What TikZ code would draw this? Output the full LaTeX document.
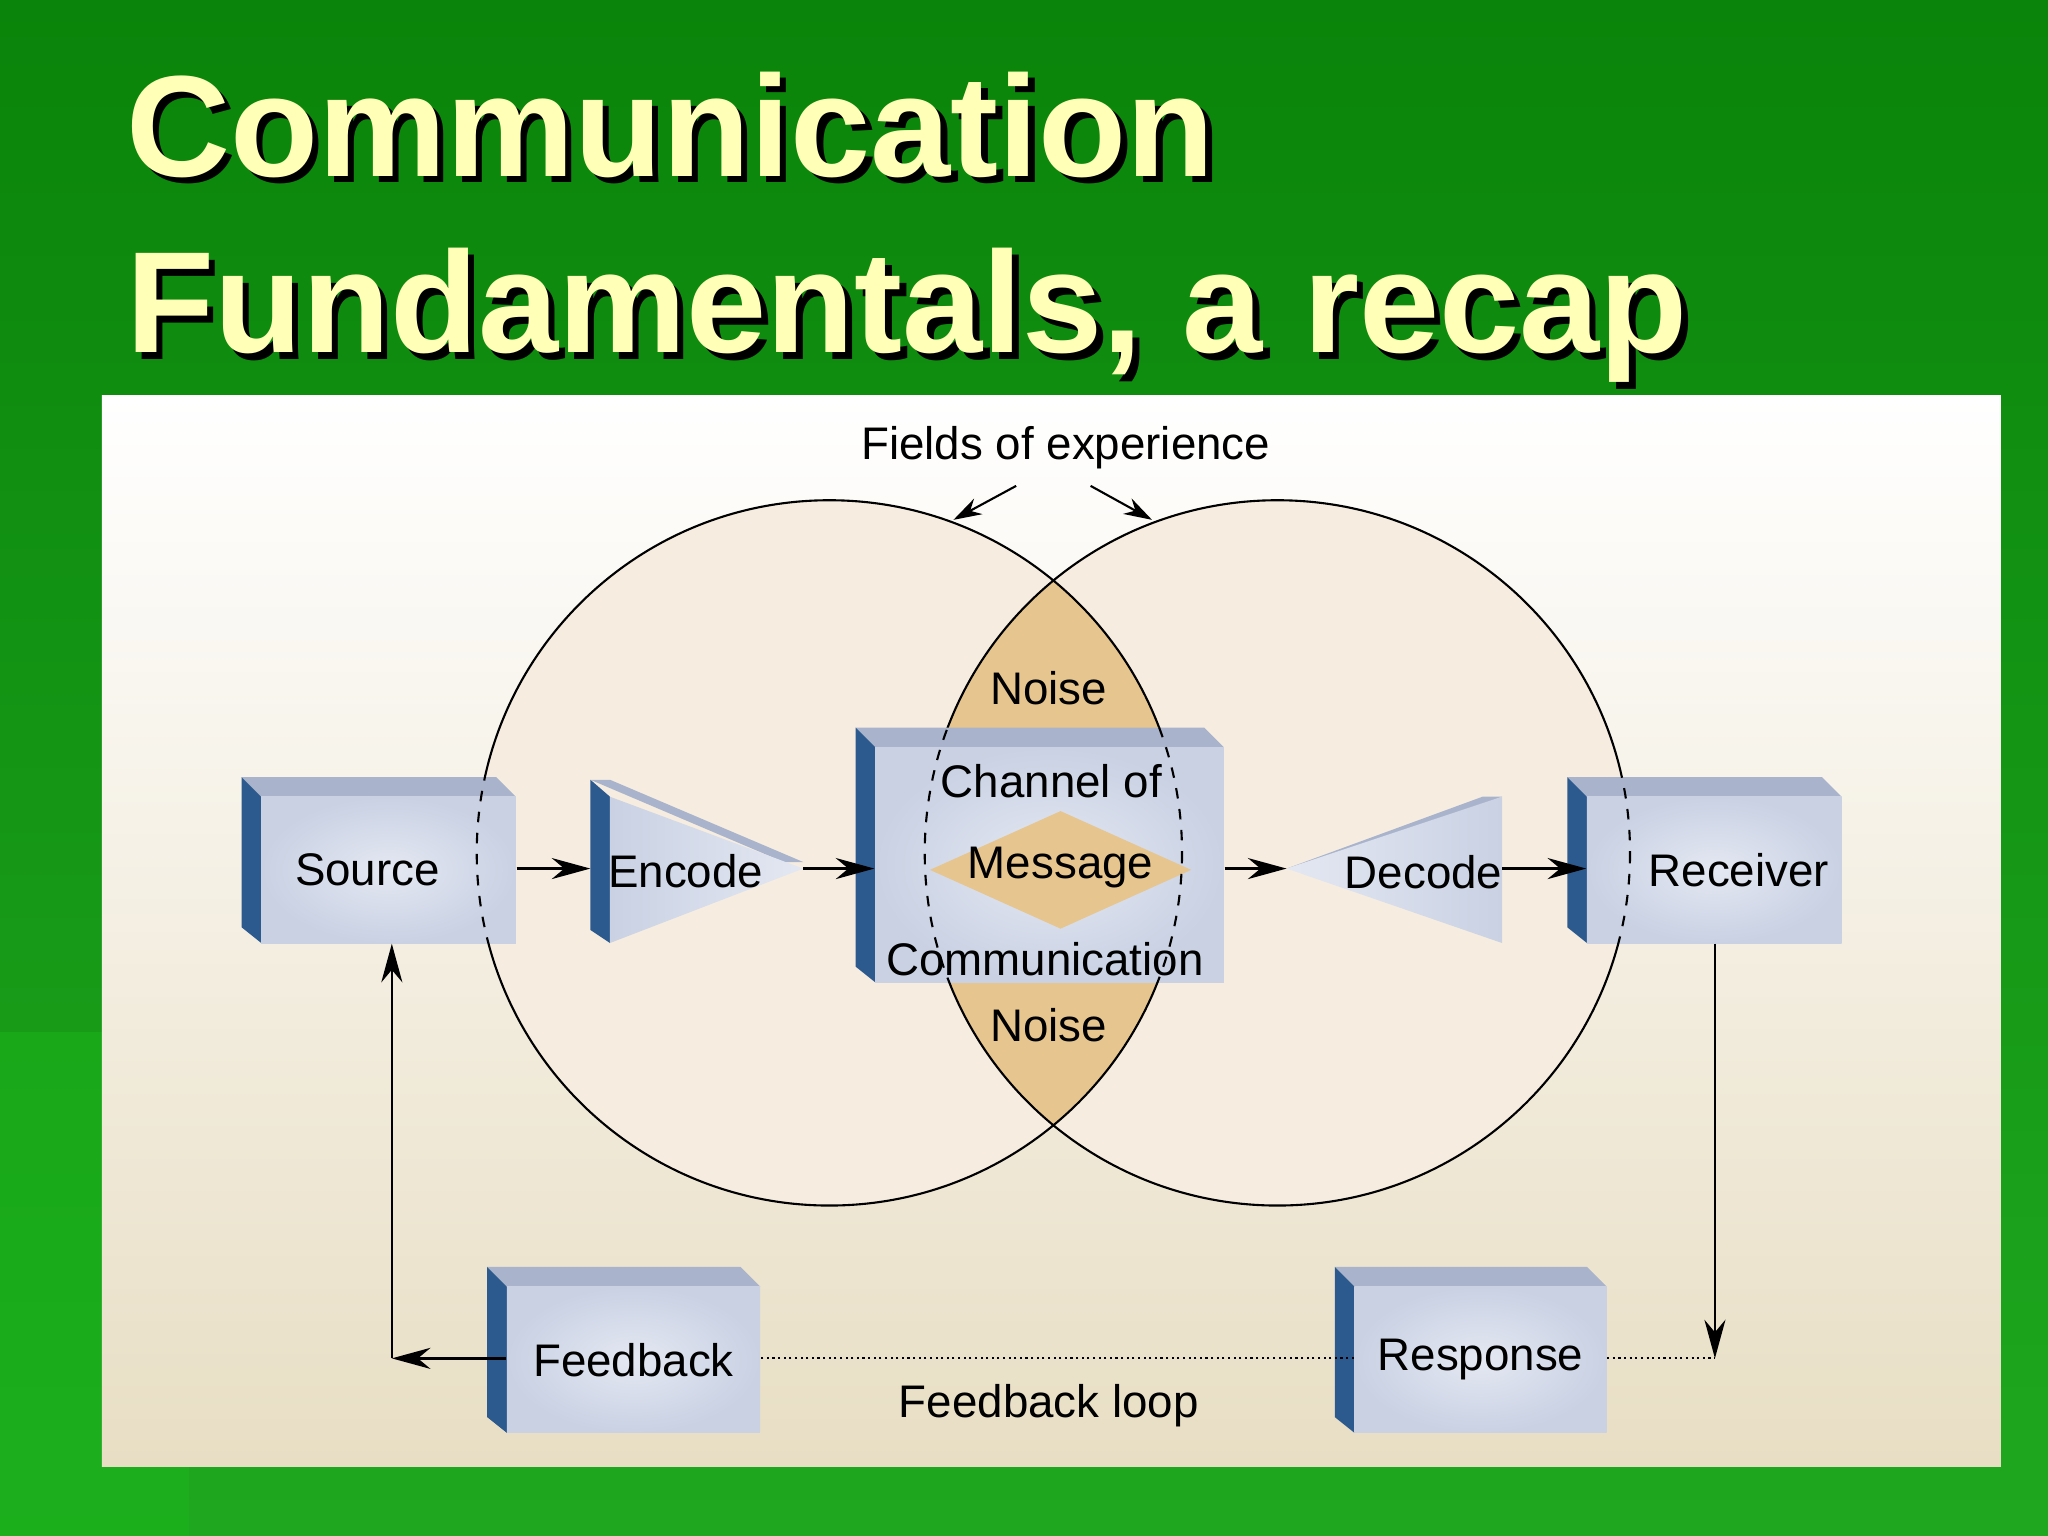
\documentclass[tikz,border=0pt]{standalone}
\usepackage{fontspec}
\setmainfont{Liberation Sans}
\usetikzlibrary{arrows.meta}
\definecolor{bgtop}{HTML}{0A840A}
\definecolor{bgbot}{HTML}{1FA81F}
\definecolor{ttl}{HTML}{FFFFB8}
\definecolor{lens}{HTML}{E6C68E}
\definecolor{face}{HTML}{C9D1E3}
\definecolor{facel}{HTML}{E4E8F2}
\definecolor{edge}{HTML}{2C5A8E}
\definecolor{bevel}{HTML}{A9B4CC}
\definecolor{circ}{HTML}{F6EDE0}
\definecolor{panb}{HTML}{E8DEC4}
\tikzset{
 arr/.style={-{Stealth[length=11pt,width=6pt]},line width=0.7pt},
 lbl/.style={font=\fontsize{13}{13}\selectfont,inner sep=0pt},
 ttlf/.style={font=\fontsize{41}{41}\selectfont\bfseries,anchor=base west,inner sep=0pt},
}
\newcommand\cbox[6]{%
 \fill[bevel] (#2,#3)--(#4-15,#3)--(#4,#3+15)--(#2+15,#3+15)--cycle;
 \fill[edge] (#2,#3)--(#2+15,#3+15)--(#2+15,#5)--(#2,#5-12)--cycle;
 \shade[inner color=facel,outer color=face] (#2+15,#3+15) rectangle (#4,#5);
 \node[lbl,minimum width={(#4-#2-15)*0.013061cm},minimum height={(#5-#3-15)*0.013061cm}] (#1) at ({(#2+15+#4)/2},{(#3+15+#5)/2}) {#6};}
\begin{document}
\begin{tikzpicture}[x=0.013061cm,y=-0.013061cm]
\useasboundingbox (0,0) rectangle (1568,1176);
\shade[top color=bgtop,bottom color=bgbot] (0,0) rectangle (1568,1176);
\fill[green!70!black!90!white,opacity=0.4] (0,790) rectangle (145,1176);
% title
\foreach \t/\yy in {Communication/135, {Fundamentals, a recap}/270}{
 \node[ttlf,black] at (101,\yy+5) {\t};
 \node[ttlf,ttl] at (96,\yy) {\t};}
% panel
\shade[top color=white,bottom color=panb] (78,303) rectangle (1532,1123);
% circles
\fill[circ] (635,653) circle (270);
\fill[circ] (978,653) circle (270);
\begin{scope}
 \clip (635,653) circle (270);
 \fill[lens] (978,653) circle (270);
\end{scope}
\draw[line width=0.6pt] (635,653) circle (270) (978,653) circle (270);
% channel box
\cbox{chan}{655}{557}{937}{752}{}
\fill[lens] (712,666)--(812,621)--(912,666)--(812,711)--cycle;
\node[lbl] (msg) at (812,664) {Message};
\node[lbl] at (805,598) {Channel of};
\node[lbl] at (800,734) {Communication};
\node[lbl] (n1) at (803,527) {Noise};
\node[lbl] (n2) at (803,785) {Noise};
% boxes
\cbox{source}{185}{595}{395}{722}{\hspace*{-12pt}Source}
\cbox{receiver}{1200}{595}{1410}{722}{\hspace*{14pt}Receiver}
\cbox{feedback}{373}{970}{582}{1097}{Feedback}
\cbox{response}{1022}{970}{1230}{1097}{Response}
% encode
\fill[bevel] (452,597)--(467,597)--(615,660)--(600,660)--cycle;
\fill[edge] (452,597)--(467,610)--(467,722)--(452,712)--cycle;
\shade[left color=face,right color=facel] (467,610)--(615,665)--(467,722)--cycle;
\node[lbl] (encode) at (525,667) {Encode};
\coordinate (encin) at (452,665);
\coordinate (encout) at (615,665);
% decode
\fill[bevel] (985,665)--(1135,610)--(1150,610)--(1000,665)--cycle;
\shade[left color=facel,right color=face] (985,665)--(1150,610)--(1150,722)--cycle;
\node[lbl] (decode) at (1090,668) {Decode};
\coordinate (decin) at (985,665);
\coordinate (decout) at (1150,665);
% dashed circle parts over boxes
\foreach \a/\b/\c/\d in {185/595/395/722, 655/557/937/752, 1200/595/1410/722}{
 \begin{scope}
  \clip (\a,\b) rectangle (\c,\d);
  \draw[dashed,line width=0.6pt] (635,653) circle (270) (978,653) circle (270);
 \end{scope}}
% arrows
\draw[arr] (source.east|-encin) -- (encin);
\draw[arr] (encout) -- (chan.west|-encout);
\draw[arr] (chan.east|-decin) -- (decin);
\draw[arr] (decout) -- (receiver.west|-decout);
\coordinate (rc) at (1313,1040);
\coordinate (lc) at (300,1040);
\draw[arr] (receiver.south-|rc) -- (rc);
\draw[densely dotted,line width=0.6pt] (response.east|-rc) -- (rc);
\draw[densely dotted,line width=0.6pt] (response.west|-rc) -- (feedback.east|-rc);
\draw[arr] (feedback.west|-lc) -- (lc);
\draw[arr] (lc) -- (source.south-|lc);
\node[lbl] (loop) at (803,1076) {Feedback loop};
% fields
\node[lbl] (fields) at (816,343) {Fields of experience};
\coordinate (f1) at (730,398);
\coordinate (f2) at (882,398);
\draw[-{Stealth[length=8pt,width=5pt]},line width=0.6pt] (778,372) -- (f1);
\draw[-{Stealth[length=8pt,width=5pt]},line width=0.6pt] (835,372) -- (f2);
\end{tikzpicture}
\end{document}
